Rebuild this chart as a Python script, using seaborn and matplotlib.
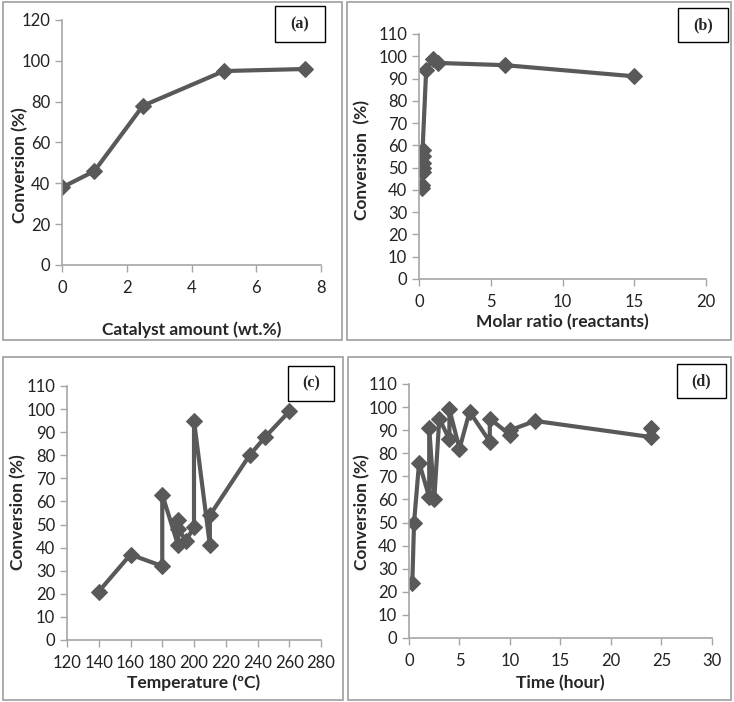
# Four-panel conversion plot (a)-(d), Excel-like styling
import numpy as np
import pandas as pd
import matplotlib
matplotlib.use('Agg')
import matplotlib.pyplot as plt
import seaborn as sns
from matplotlib.patches import Rectangle

# (a) catalyst amount
cat_amount = [0, 1, 2.5, 5, 7.5]
cat_conv = [38, 46, 78, 95, 96]

# (b) molar ratio
ratio = [0.2, 0.2, 0.25, 0.25, 0.25, 0.25, 0.25, 0.5, 1, 1.33, 6, 15]
ratio_conv = [41, 42, 48, 50, 52, 55, 58, 94, 99, 97, 96, 91]

# (c) temperature
temp = [140, 160, 180, 180, 190, 190, 190, 195, 200, 200, 210, 210, 235, 245, 260]
temp_conv = [21, 37, 32, 63, 41, 52, 48, 43, 49, 95, 41, 54, 80, 88, 99]

# (d) time
time_h = [0.33, 0.5, 1, 2, 2, 2.5, 3, 4, 4, 5, 6, 8, 8, 10, 10, 12.5, 24, 24]
time_conv = [24, 50, 76, 61, 91, 60, 95, 86, 99, 82, 98, 85, 95, 88, 90, 94, 87, 91]

sns.set_style('white')
plt.rcParams['font.family'] = ['Lato', 'DejaVu Sans']

W, H = 734, 702
fig = plt.figure(figsize=(W / 100, H / 100), dpi=100)


def rect(x0, x1, y0, y1, **kw):
    # pixel box (left, right, top, bottom) -> figure rectangle
    fig.patches.append(Rectangle((x0 / W, 1 - y1 / H), (x1 - x0) / W, (y1 - y0) / H,
                                 transform=fig.transFigure, **kw))


def tag(text, x0, x1, y0, y1):
    rect(x0, x1, y0, y1, facecolor='white', edgecolor='black', lw=1.0)
    fig.text((x0 + x1) / 2 / W, 1 - (y0 + y1) / 2 / H, text, ha='center', va='center',
             family='Liberation Serif', weight='bold', fontsize=11.5)


# panel frames
rect(3, 342, 2, 340, fill=False, edgecolor='#a6a6a6', lw=1.3)
rect(347, 731, 2, 340, fill=False, edgecolor='#a6a6a6', lw=1.3)
rect(3, 343, 357, 700, fill=False, edgecolor='#a6a6a6', lw=1.3)
rect(348, 731, 357, 700, fill=False, edgecolor='#a6a6a6', lw=1.3)

# (pixel box of plot area, data, limits, ticks, labels, label centres in pixels)
panels = [
    ((62, 321, 20, 265), cat_amount, cat_conv, (0, 8), np.arange(0, 9, 2), (0, 120), np.arange(0, 121, 20),
     'Catalyst amount (wt.%)', 'Conversion (%)', 330, 20, 165),
    ((419, 706, 34, 279), ratio, ratio_conv, (0, 20), np.arange(0, 21, 5), (0, 110), np.arange(0, 111, 10),
     'Molar ratio (reactants)', 'Conversion  (%)', 322, 362, 160),
    ((67, 321, 386, 640), temp, temp_conv, (120, 280), np.arange(120, 281, 20), (0, 110), np.arange(0, 111, 10),
     'Temperature (ºC)', 'Conversion (%)', 683, 18, 512),
    ((409, 712, 384, 638), time_h, time_conv, (0, 30), np.arange(0, 31, 5), (0, 110), np.arange(0, 111, 10),
     'Time (hour)', 'Conversion (%)', 683, 362, 512),
]

for (x0, x1, y0, y1), xs, ys, xlim, xt, ylim, yt, xl, yl, xly, ylx, yly in panels:
    ax = fig.add_axes([x0 / W, 1 - y1 / H, (x1 - x0) / W, (y1 - y0) / H])
    df = pd.DataFrame({'x': xs, 'y': ys})
    sns.lineplot(data=df, x='x', y='y', ax=ax, sort=False, estimator=None,
                 color='#595959', lw=3, marker='D', markersize=8,
                 markeredgecolor='#595959')
    ax.set_xlim(xlim)
    ax.set_ylim(ylim)
    ax.set_xticks(xt)
    ax.set_yticks(yt)
    ax.set_xlabel(xl, fontsize=12.5, weight='bold', va='center')
    ax.set_ylabel(yl, fontsize=12.5, weight='bold', va='center')
    # label centres given in pixels -> axes coords
    ax.xaxis.set_label_coords(0.5, (y1 - xly) / (y1 - y0))
    ax.yaxis.set_label_coords((ylx - x0) / (x1 - x0), (y1 - yly) / (y1 - y0))
    ax.tick_params(labelsize=12, length=5, width=1, color='#a6a6a6',
                   labelcolor='#222222', left=True, bottom=True)
    ax.tick_params(axis='x', pad=6)
    for s in ['top', 'right']:
        ax.spines[s].set_visible(False)
    for s in ['left', 'bottom']:
        ax.spines[s].set_color('#a6a6a6')
        ax.spines[s].set_linewidth(1.2)
    ax.set_facecolor('none')

tag('(a)', 275, 325, 6, 42)
tag('(b)', 678, 728, 8, 42)
tag('(c)', 288, 334, 366, 401)
tag('(d)', 677, 726, 364, 398)

fig.savefig('out.png', dpi=100)
